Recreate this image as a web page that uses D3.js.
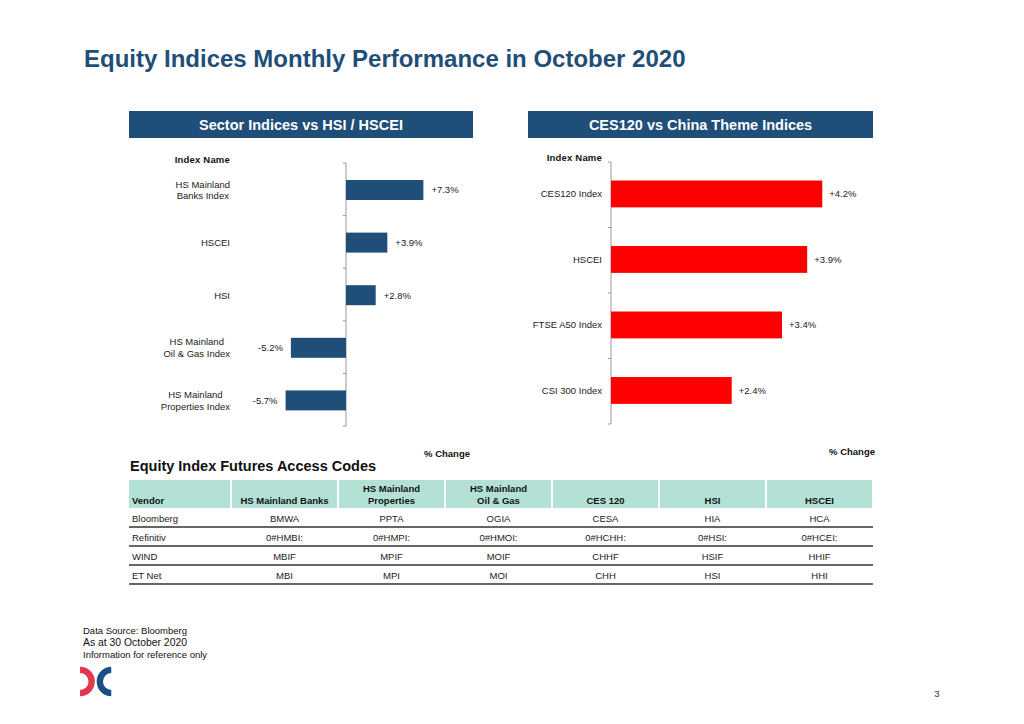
<!DOCTYPE html>
<html>
<head>
<meta charset="utf-8">
<script src="https://cdn.jsdelivr.net/npm/d3@7"></script>
<style>
  body { margin: 0; background: #fff; }
  svg { display: block; font-family: "Liberation Sans", Arial, sans-serif; }
</style>
</head>
<body>
<svg id="chart" width="1024" height="724"></svg>
<script>
// ---------- DATA ----------
const title = "Equity Indices Monthly Performance in October 2020";

const leftTitle = "Sector Indices vs HSI / HSCEI";
const leftCategories = ["HS Mainland\nBanks Index", "HSCEI", "HSI", "HS Mainland\nOil & Gas Index", "HS Mainland\nProperties Index"];
const leftValues = [7.3, 3.9, 2.8, -5.2, -5.7];

const rightTitle = "CES120 vs China Theme Indices";
const rightCategories = ["CES120 Index", "HSCEI", "FTSE A50 Index", "CSI 300 Index"];
const rightValues = [4.2, 3.9, 3.4, 2.4];

const tableTitle = "Equity Index Futures Access Codes";
const tableColumns = ["Vendor", "HS Mainland Banks", "HS Mainland\nProperties", "HS Mainland\nOil & Gas", "CES 120", "HSI", "HSCEI"];
const tableVendors = ["Bloomberg", "Refinitiv", "WIND", "ET Net"];
const tableCodes = [
  ["BMWA", "PPTA", "OGIA", "CESA", "HIA", "HCA"],
  ["0#HMBI:", "0#HMPI:", "0#HMOI:", "0#HCHH:", "0#HSI:", "0#HCEI:"],
  ["MBIF", "MPIF", "MOIF", "CHHF", "HSIF", "HHIF"],
  ["MBI", "MPI", "MOI", "CHH", "HSI", "HHI"]
];

const footerLines = ["Data Source: Bloomberg", "As at 30 October 2020", "Information for reference only"];
const pageNumber = "3";

// ---------- STYLE ----------
const navy = "#1f4e79";
const red = "#ff0000";
const teal = "#b3e1d6";
const textCol = "#222";

const svg = d3.select("#chart");

const fmt = v => (v > 0 ? "+" : "") + v.toFixed(1) + "%";

// Title
svg.append("text")
  .attr("x", 84).attr("y", 67)
  .attr("font-size", 24).attr("font-weight", "bold")
  .attr("fill", navy)
  .text(title);

// Header boxes
function headerBox(x0, x1, label) {
  svg.append("rect").attr("x", x0).attr("y", 111).attr("width", x1 - x0).attr("height", 27).attr("fill", navy);
  svg.append("text").attr("x", (x0 + x1) / 2).attr("y", 130)
    .attr("text-anchor", "middle").attr("font-size", 14.5).attr("font-weight", "bold")
    .attr("fill", "#fff").text(label);
}
headerBox(129, 473, leftTitle);
headerBox(528, 873, rightTitle);

// Multi-line category label, centred lines, block right-aligned at rightX
function catLabel(g, label, rightX, cy) {
  const lines = label.split("\n");
  const lh = 11.5;
  const t = g.append("text").attr("font-size", 9.5).attr("fill", textCol).attr("text-anchor", "middle");
  const spans = lines.map((ln, i) => t.append("tspan")
    .attr("y", cy + 3.4 + (i - (lines.length - 1) / 2) * lh).text(ln));
  let maxW = 0;
  spans.forEach(s => { maxW = Math.max(maxW, s.node().getComputedTextLength()); });
  spans.forEach(s => s.attr("x", rightX - maxW / 2));
}

function drawChart(opts) {
  const g = svg.append("g");
  const y = d3.scaleBand().domain(opts.categories).range([opts.top, opts.bottom]).padding(0);
  const x = d3.scaleLinear().domain(opts.xDomain).range(opts.xRange);
  const x0 = x(0);
  const barH = y.bandwidth() * opts.barFrac;

  // axis line and boundary ticks
  g.append("line").attr("x1", x0).attr("x2", x0).attr("y1", opts.top).attr("y2", opts.bottom)
    .attr("stroke", "#999").attr("stroke-width", 1);
  const bounds = opts.categories.map(c => y(c)).concat([opts.bottom]);
  g.selectAll(".tick").data(bounds).enter().append("line")
    .attr("x1", x0 - 3).attr("x2", x0).attr("y1", d => d).attr("y2", d => d)
    .attr("stroke", "#999").attr("stroke-width", 1);

  const data = opts.categories.map((c, i) => ({ c, v: opts.values[i] }));
  g.selectAll(".bar").data(data).enter().append("rect")
    .attr("x", d => Math.min(x(d.v), x0))
    .attr("width", d => Math.abs(x(d.v) - x0))
    .attr("y", d => y(d.c) + (y.bandwidth() - barH) / 2 + opts.barShift)
    .attr("height", barH)
    .attr("fill", opts.color);

  g.selectAll(".val").data(data).enter().append("text")
    .attr("x", d => d.v >= 0 ? x(d.v) + opts.valGap : x(d.v) - opts.valGap)
    .attr("y", d => y(d.c) + y.bandwidth() / 2 + opts.barShift + 3.4)
    .attr("text-anchor", d => d.v >= 0 ? "start" : "end")
    .attr("font-size", 9.5).attr("fill", textCol)
    .text(d => fmt(d.v));

  data.forEach(d => catLabel(g, d.c, opts.labelX, y(d.c) + y.bandwidth() / 2 + opts.barShift));

  g.append("text").attr("x", opts.labelX).attr("y", opts.nameY)
    .attr("text-anchor", "end").attr("font-size", 9.5).attr("font-weight", "bold")
    .attr("fill", "#111").attr("letter-spacing", 0.2).text("Index Name");
  g.append("text").attr("x", opts.changeX).attr("y", opts.changeY)
    .attr("text-anchor", "end").attr("font-size", 9.5).attr("font-weight", "bold")
    .attr("fill", "#111").text("% Change");
}

drawChart({
  categories: leftCategories, values: leftValues,
  top: 163, bottom: 426, barFrac: 0.38, barShift: 0.7,
  xDomain: [-8, 8], xRange: [346 - 84.8, 346 + 84.8],
  color: navy, valGap: 8, labelX: 230,
  nameY: 162.5, changeX: 470, changeY: 457
});

drawChart({
  categories: rightCategories, values: rightValues,
  top: 162, bottom: 424, barFrac: 0.41, barShift: -0.8,
  xDomain: [0, 5], xRange: [611, 611 + 251.5],
  color: red, valGap: 7, labelX: 602,
  nameY: 160.5, changeX: 875, changeY: 455
});

// ---------- TABLE ----------
svg.append("text").attr("x", 130).attr("y", 471)
  .attr("font-size", 14.5).attr("font-weight", "bold").attr("fill", "#111")
  .text(tableTitle);

const colX = d3.scaleBand().domain(tableColumns.slice(1)).range([231, 873]);
const colLeft = c => c === tableColumns[0] ? 129 : colX(c);
const colW = c => c === tableColumns[0] ? 102 : colX.bandwidth();

const headTop = 480, headH = 28, rowH = 19;
const tg = svg.append("g");
tableColumns.forEach((c, i) => {
  tg.append("rect").attr("x", colLeft(c) + (i === 0 ? 0 : 1)).attr("y", headTop)
    .attr("width", colW(c) - (i === 0 ? 1 : 2)).attr("height", headH).attr("fill", teal);
  const lines = c.split("\n");
  const t = tg.append("text").attr("font-size", 9.5).attr("font-weight", "bold").attr("fill", "#111")
    .attr("text-anchor", i === 0 ? "start" : "middle");
  lines.forEach((ln, j) => {
    t.append("tspan")
      .attr("x", i === 0 ? colLeft(c) + 3 : colLeft(c) + colW(c) / 2)
      .attr("y", 503.5 - (lines.length - 1 - j) * 12)
      .text(ln);
  });
});

tableVendors.forEach((v, r) => {
  const rowTop = headTop + headH + r * rowH;
  tg.append("text").attr("x", 132).attr("y", rowTop + 14).attr("font-size", 9.5).attr("fill", textCol).text(v);
  tableCodes[r].forEach((code, k) => {
    const c = tableColumns[k + 1];
    tg.append("text").attr("x", colLeft(c) + colW(c) / 2).attr("y", rowTop + 14)
      .attr("text-anchor", "middle").attr("font-size", 9.5).attr("fill", textCol).text(code);
  });
  tg.append("line").attr("x1", 129).attr("x2", 873)
    .attr("y1", rowTop + rowH).attr("y2", rowTop + rowH)
    .attr("stroke", "#333").attr("stroke-width", 1.3);
});

// ---------- FOOTER ----------
const footSizes = [9.5, 10.4, 9.5];
const footY = [634, 646, 658];
footerLines.forEach((ln, i) => {
  svg.append("text").attr("x", 83).attr("y", footY[i]).attr("font-size", footSizes[i]).attr("fill", "#111").text(ln);
});

// Logo: two half-rings facing each other (clip rects in local coords)
const arcGen = d3.arc().innerRadius(8.5).outerRadius(14.8);
const defs = svg.append("defs");
defs.append("clipPath").attr("id", "logoClipL").append("rect")
  .attr("x", 0).attr("y", -20).attr("width", 17).attr("height", 40);
defs.append("clipPath").attr("id", "logoClipR").append("rect")
  .attr("x", -15.5).attr("y", -20).attr("width", 15.5).attr("height", 40);
svg.append("g").attr("transform", "translate(80,681.5)")
  .append("path").attr("clip-path", "url(#logoClipL)")
  .attr("d", arcGen({ startAngle: 0, endAngle: Math.PI })).attr("fill", "#e5364f");
svg.append("g").attr("transform", "translate(111.5,681.5)")
  .append("path").attr("clip-path", "url(#logoClipR)")
  .attr("d", arcGen({ startAngle: Math.PI, endAngle: 2 * Math.PI })).attr("fill", "#1a4f85");

svg.append("text").attr("x", 937).attr("y", 697).attr("text-anchor", "middle")
  .attr("font-size", 9.5).attr("fill", "#333").text(pageNumber);
</script>
</body>
</html>
